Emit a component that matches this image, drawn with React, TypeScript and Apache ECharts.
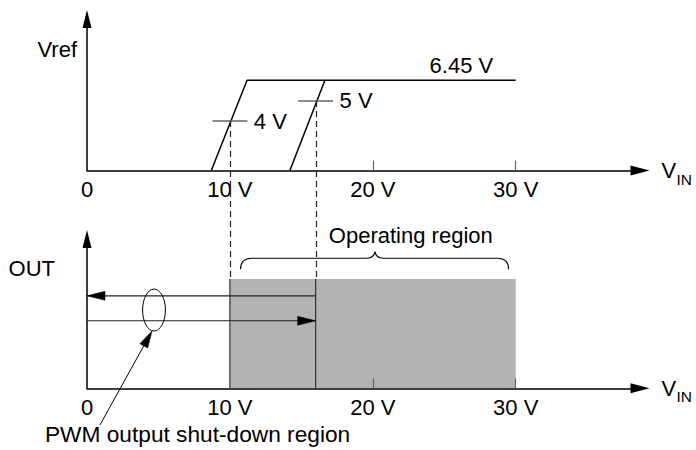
import React, { useEffect, useRef } from "react";
import * as echarts from "echarts";

// ---------------- data ----------------
const xTickValues = [0, 10, 20, 30];
const xTickLabels = ["0", "10 V", "20 V", "30 V"];
const xInnerTicks = [20, 30];

// Vref vs V_IN (top panel)
const vrefLevels = [0, 6.45];
const vrefRiseStart = [8.7, 14.2];
const vrefRiseEnd = [11.2, 16.65];
const vrefPlateauEnd = 30;
const vrefPlateauLabel = "6.45 V";

// threshold marks on the rising edges
const thresholdVin = [10, 16];
const thresholdLevel = [3.53, 4.97];
const thresholdLabels = ["4 V", "5 V"];

// OUT vs V_IN (bottom panel)
const outLevels = [0, 1];
const operatingRange = [10, 30];
const hystFrom = [16, 0];
const hystTo = [0, 16];
const hystLevel = [0.846, 0.618];

const axisTitles = ["Vref", "OUT"];
const xTitleMain = "V";
const xTitleSub = "IN";
const operatingLabel = "Operating region";
const shutdownLabel = "PWM output shut-down region";

// ---------------- chart ----------------
export default function App() {
  const ref = useRef<HTMLDivElement>(null);

  useEffect(() => {
    if (!ref.current) return;
    const chart = echarts.init(ref.current, undefined, { renderer: "svg" });
    const FONT = "'Liberation Sans', Arial, Helvetica, sans-serif";
    const FS = 22;
    const X_MAX = 38.7;
    const Y_MAX = [10.83, 1.366];
    const BLACK = "#000";
    const DARK = "#222";

    const axisLine = (w: number, h: number) => ({
      show: true,
      onZero: false,
      symbol: ["none", "triangle"],
      symbolSize: [w, h],
      lineStyle: { color: BLACK, width: 1.5 },
    });

    const xAxes = [0, 1].map((i) => ({
      type: "value",
      gridIndex: i,
      min: 0,
      max: X_MAX,
      interval: 10,
      axisLine: axisLine(10, 19),
      axisTick: {
        show: true,
        inside: true,
        length: 10,
        customValues: xInnerTicks,
        lineStyle: { color: "#666", width: 1.2 },
      },
      axisLabel: {
        show: true,
        customValues: xTickValues,
        margin: 8,
        color: BLACK,
        fontSize: FS,
        fontFamily: FONT,
        formatter: (v: number) => {
          const k = xTickValues.indexOf(v);
          return k >= 0 ? xTickLabels[k] : "";
        },
      },
      splitLine: { show: false },
    }));

    const yAxes = [0, 1].map((i) => ({
      type: "value",
      gridIndex: i,
      min: 0,
      max: Y_MAX[i],
      axisLine: axisLine(9, 18),
      axisTick: { show: false },
      axisLabel: { show: false },
      splitLine: { show: false },
    }));

    const seg = (g: number, data: number[][], color: string, width: number, extra: any = {}) => ({
      type: "line",
      xAxisIndex: g,
      yAxisIndex: g,
      data,
      symbol: "none",
      showSymbol: false,
      silent: true,
      clip: false,
      lineStyle: { color, width },
      z: 3,
      ...extra,
    });

    const markHalf = 1.22;
    const series: any[] = [
      seg(0, [
        [vrefRiseStart[0], vrefLevels[0]],
        [vrefRiseEnd[0], vrefLevels[1]],
        [vrefPlateauEnd, vrefLevels[1]],
      ], BLACK, 1.5),
      seg(0, [
        [vrefRiseStart[1], vrefLevels[0]],
        [vrefRiseEnd[1], vrefLevels[1]],
      ], BLACK, 1.5),
      ...thresholdVin.map((t, i) =>
        seg(0, [
          [t - markHalf, thresholdLevel[i]],
          [t + markHalf, thresholdLevel[i]],
        ], "#666", 1.5)
      ),
      seg(1, operatingRange.map((x) => [x, outLevels[1]]), "#b3b3b3", 0, {
        areaStyle: { color: "#b3b3b3", opacity: 1 },
        z: -1,
      }),
      ...thresholdVin.map((t) =>
        seg(1, [
          [t, outLevels[0]],
          [t, outLevels[1]],
        ], "#333", 1.2)
      ),
      ...hystFrom.map((f, i) =>
        seg(1, [
          [f, hystLevel[i]],
          [hystTo[i], hystLevel[i]],
        ], DARK, 1.2)
      ),
    ];

    chart.setOption({
      animation: false,
      backgroundColor: "#fff",
      grid: [
        { left: 87, right: 56, top: 19, bottom: 279.5, containLabel: false, outerBoundsMode: "none" },
        { left: 87, right: 56, top: 239, bottom: 61.7, containLabel: false, outerBoundsMode: "none" },
      ],
      xAxis: xAxes,
      yAxis: yAxes,
      series,
    });

    const P = (g: number, x: number, y: number) =>
      chart.convertToPixel({ gridIndex: g } as any, [x, y]) as number[];

    const arrowHead = (tip: number[], from: number[], len: number, wid: number) => {
      const dx = tip[0] - from[0];
      const dy = tip[1] - from[1];
      const L = Math.hypot(dx, dy) || 1;
      const ux = dx / L;
      const uy = dy / L;
      const bx = tip[0] - ux * len;
      const by = tip[1] - uy * len;
      const px = -uy * (wid / 2);
      const py = ux * (wid / 2);
      return {
        type: "polygon",
        silent: true,
        z: 10,
        shape: { points: [tip, [bx + px, by + py], [bx - px, by - py]] },
        style: { fill: BLACK, stroke: BLACK, lineWidth: 0.5 },
      };
    };

    const text = (x: number, y: number, t: string, align: string, size = FS) => ({
      type: "text",
      silent: true,
      z: 10,
      x,
      y,
      style: {
        text: t,
        fill: BLACK,
        fontSize: size,
        fontFamily: FONT,
        align,
        verticalAlign: "middle",
      },
    });

    const els: any[] = [];

    thresholdVin.forEach((t, i) => {
      const a = P(0, t, thresholdLevel[i]);
      const b = P(1, t, outLevels[1]);
      const xx = Math.round(a[0]) + 0.5;
      els.push({
        type: "line",
        silent: true,
        z: 9,
        shape: { x1: xx, y1: a[1], x2: xx, y2: b[1] },
        style: { stroke: "#222", lineWidth: 1.2, lineDash: [6, 4] },
      });
      const e = P(0, t + markHalf, thresholdLevel[i]);
      els.push(text(e[0] + 6.5, e[1], thresholdLabels[i], "left"));
    });

    const pl = P(0, 26.2, vrefLevels[1]);
    els.push(text(pl[0], pl[1] - 14.5, vrefPlateauLabel, "center"));

    const vt = P(0, 0, 8.63);
    els.push(text(vt[0] - 10, vt[1], axisTitles[0], "right"));
    const ot = P(1, 0, 1.098);
    els.push(text(ot[0] - 32, ot[1], axisTitles[1], "right"));

    [0, 1].forEach((g) => {
      const e = P(g, X_MAX, 0);
      els.push(text(e[0] + 21.5, e[1], xTitleMain, "left"));
      els.push(text(e[0] + 36.5, e[1] + 8.5, xTitleSub, "left", 15.5));
    });

    hystFrom.forEach((f, i) => {
      els.push(arrowHead(P(1, hystTo[i], hystLevel[i]), P(1, f, hystLevel[i]), 18, 9));
    });

    const ec = P(1, 4.69, 0.716);
    const er = P(1, 4.69 + 0.8, 0.716 + 0.192);
    els.push({
      type: "ellipse",
      silent: true,
      z: 10,
      shape: { cx: ec[0], cy: ec[1], rx: er[0] - ec[0], ry: ec[1] - er[1] },
      style: { fill: "none", stroke: BLACK, lineWidth: 1 },
    });

    const tail = P(1, 0.91, -0.335);
    const tip = P(1, 4.55, 0.524);
    {
      const dx = tip[0] - tail[0];
      const dy = tip[1] - tail[1];
      const L = Math.hypot(dx, dy);
      els.push({
        type: "line",
        silent: true,
        z: 10,
        shape: { x1: tail[0], y1: tail[1], x2: tip[0] - (dx / L) * 14, y2: tip[1] - (dy / L) * 14 },
        style: { stroke: BLACK, lineWidth: 1 },
      });
      els.push(arrowHead(tip, tail, 17, 9));
    }
    const sl = P(1, -2.94, -0.414);
    els.push(text(sl[0], sl[1], shutdownLabel, "left", 22.7));

    const bL = P(1, 10.75, 1.19);
    const bM = P(1, 20.15, 1.19);
    const bR = P(1, 29.5, 1.19);
    const y0 = bL[1];
    const curl = 11;
    const cusp = 6.5;
    const bs = { stroke: BLACK, lineWidth: 1.2, fill: "none" };
    const bez = (x1: number, y1: number, cx: number, cy: number, x2: number, y2: number) => ({
      type: "bezierCurve",
      silent: true,
      z: 10,
      shape: { x1, y1, cpx1: cx, cpy1: cy, x2, y2 },
      style: bs,
    });
    const ln = (x1: number, y1: number, x2: number, y2: number) => ({
      type: "line",
      silent: true,
      z: 10,
      shape: { x1, y1, x2, y2 },
      style: bs,
    });
    els.push(bez(bL[0], y0 + curl, bL[0], y0, bL[0] + curl, y0));
    els.push(ln(bL[0] + curl, y0, bM[0] - 9, y0));
    els.push(bez(bM[0] - 9, y0, bM[0] - 1, y0, bM[0], y0 - cusp));
    els.push(bez(bM[0], y0 - cusp, bM[0] + 1, y0, bM[0] + 9, y0));
    els.push(ln(bM[0] + 9, y0, bR[0] - curl, y0));
    els.push(bez(bR[0] - curl, y0, bR[0], y0, bR[0], y0 + curl));
    const opl = P(1, 22.66, 1.396);
    els.push(text(opl[0], opl[1], operatingLabel, "center"));

    chart.setOption({ graphic: { elements: els } });

    return () => chart.dispose();
  }, []);

  return (
    <div
      ref={ref}
      style={{ position: "fixed", left: 0, top: 0, width: 696, height: 450, background: "#fff" }}
    />
  );
}
